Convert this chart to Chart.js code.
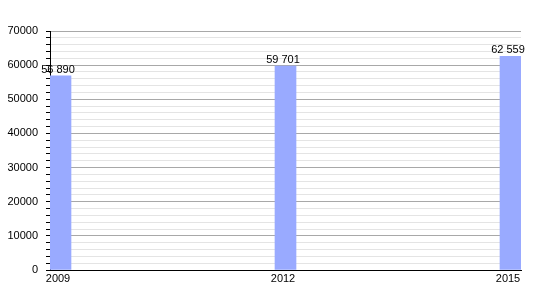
<!DOCTYPE html>
<html>
<head>
<meta charset="utf-8">
<script src="https://cdn.jsdelivr.net/npm/chart.js@4/dist/chart.umd.min.js"></script>
<style>
    body { margin: 0; background: #fff; }
    #wrap { width: 550px; height: 300px; }
</style>
</head>
<body>
<div id="wrap"><canvas id="myChart"></canvas></div>
<script>
// Data
const years = [2009, 2012, 2015];
const population = [56890, 59701, 62559];
const yTicksMajor = [0, 10000, 20000, 30000, 40000, 50000, 60000, 70000];

function spaced(n) {
    // "56 890" style, space as thousands separator
    return String(n).replace(/\B(?=(\d{3})+(?!\d))/g, ' ');
}

// Value labels above each bar
const valueLabels = {
    id: 'valueLabels',
    afterDatasetsDraw(chart) {
        const ctx = chart.ctx;
        const meta = chart.getDatasetMeta(0);
        ctx.save();
        ctx.font = '11px "Liberation Sans", Arial, sans-serif';
        ctx.fillStyle = '#000';
        ctx.textAlign = 'center';
        ctx.textBaseline = 'alphabetic';
        meta.data.forEach((bar, i) => {
            ctx.fillText(spaced(population[i]), bar.x - 2.5, bar.y - 3);
        });
        ctx.restore();
    }
};

Chart.defaults.font.family = '"Liberation Sans", Arial, sans-serif';
Chart.defaults.font.size = 11;
Chart.defaults.color = '#000';

var ctx = document.getElementById('myChart').getContext('2d');
var myChart = new Chart(ctx, {
    type: 'bar',
    data: {
        datasets: [{
            data: years.map((y, i) => ({ x: y, y: population[i] })),
            backgroundColor: '#99aaff',
            borderWidth: 0,
            barThickness: 21,
        }]
    },
    options: {
        responsive: true,
        maintainAspectRatio: false,
        animation: false,
        layout: { padding: { top: 31, right: 29, left: 0, bottom: 0 } },
        plugins: {
            legend: { display: false },
            tooltip: { enabled: false }
        },
        scales: {
            x: {
                type: 'linear',
                offset: false,
                min: 2008.86,
                max: 2015.14,
                afterBuildTicks: (scale) => {
                    scale.ticks = years.map(v => ({ value: v }));
                },
                afterFit: (scale) => { scale.height = 30; },
                ticks: {
                    callback: (v) => String(v),
                    maxRotation: 0,
                    autoSkip: false,
                    padding: 2,
                    labelOffset: -2.5,
                },
                grid: { display: false, drawTicks: false },
                border: { display: true, color: '#000', width: 1 }
            },
            y: {
                min: 0,
                max: 70000,
                afterFit: (scale) => { scale.width = 50; },
                ticks: {
                    stepSize: 2000,
                    autoSkip: false,
                    padding: 8,
                    callback: (v) => yTicksMajor.includes(v) ? String(v) : '',
                },
                grid: {
                    color: (c) => (c.tick && c.tick.value % 10000 === 0) ? '#a8a8a8' : '#e4e4e4',
                    tickColor: '#000',
                    tickLength: 4,
                },
                border: { display: true, color: '#000', width: 1 }
            }
        }
    },
    plugins: [valueLabels]
});
</script>
</body>
</html>
